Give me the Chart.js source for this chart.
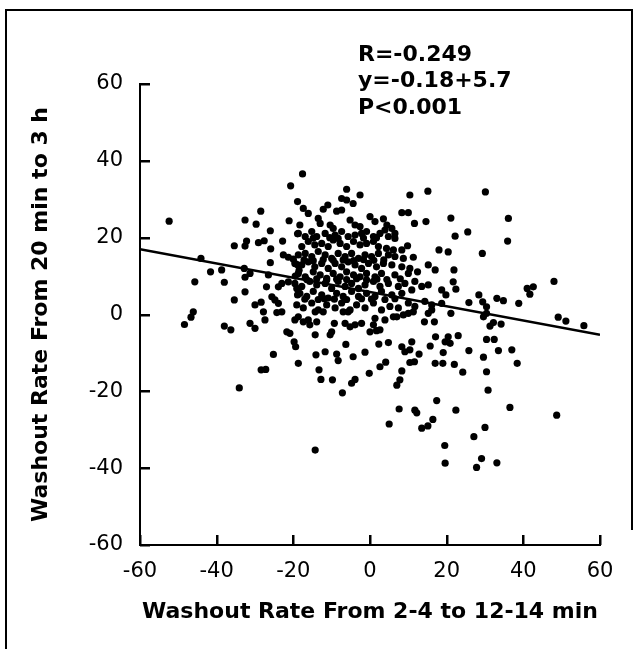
<!DOCTYPE html>
<html>
<head>
<meta charset="utf-8">
<script src="https://cdn.jsdelivr.net/npm/chart.js@4.4.0/dist/chart.umd.min.js"></script>
<style>
  html, body { margin: 0; padding: 0; background: #fff; }
  #wrap { width: 637px; height: 649px; }
</style>
</head>
<body>
<div id="wrap"><canvas id="chart" width="637" height="649"></canvas></div>
<script>
// washout rate from 2-4 to 12-14 min (x) and from 20 min to 3 h (y), one entry per patient
const rateEarly = [
  -52.4, -20.7, -18.9, -28.5, -32.6, -29.7, -21.1, -26.0, -18.9, -35.4,
  -32.6, -32.2, -29.1, -27.6, -25.9, -22.8, -22.6, -21.3, -20.0, -44.1,
  -41.6, -38.7, -45.7, -38.0, -32.8, -32.6, -31.3, -26.0, -26.5, -27.0,
  -32.6, -35.4, -30.0, -28.4, -23.9, -23.0, -21.3, -25.6, -24.8, -23.9,
  -46.1, -27.8, -23.0, -19.1, -18.9, -19.0, -18.5, -19.5,
  -46.7, -48.4, -38.0, -36.3, -31.3, -30.0, -27.4, -24.3, -21.7, -20.9,
  -19.6, -19.8, -19.4, -25.2, -18.7, -28.4, -27.2, -34.1,
  -17.6, -6.1, -2.6, -7.4, -6.1, -4.4, -17.4, -16.1, -12.2, -11.0,
  -8.7, -7.4, 10.4, 15.1, 8.3, 10.0, 11.6, 14.6, 18.0, 9.8,
  11.3, 15.2, 17.0, 12.4, 15.2, -18.3, -13.5, -13.0, -10.4, -9.6,
  -5.2, -3.9, -2.6, 0.0, 1.3, 3.5, 4.4, 5.7, 6.5,
  30.1, 21.1, 36.1, 22.2, 25.5, 35.9, 20.4, 29.3, 21.9, 21.7,
  22.4, 18.7, 19.8, 18.7, 25.8, 28.4, 29.4, 30.4, 33.1, 34.8,
  38.8, 41.0, 42.6, 41.7, 48.0, 21.1,
  29.6, 30.4, 31.3, 32.2, 34.2, 49.1, 51.1, 55.8, 20.4, 19.6,
  20.9, 23.0, 30.4, 32.4, 19.1, 25.8, 29.6, 33.5, 37.0, 19.0,
  22.0, 24.2, 30.4, 38.4, 30.8, 22.4, 36.5, 48.7, 30.0, 27.1,
  19.5, 19.6, 29.1, 27.8, 33.1,
  -14.3, -10.4, -10.0, -9.3, -6.3, -14.1, -11.7, -8.7, -8.3, -4.4,
  -1.3, -13.3, -12.8, -9.8, -7.2, -4.8, -3.9, -0.2, 2.6, 4.1,
  2.3, 4.8, 8.3, 7.0, 7.8, 8.3, 9.1, 10.4, 10.9, 12.8,
  10.4, 11.6, 15.7, 17.1, 17.0, 14.2, 16.8, 17.4, 7.6, 11.7,
  12.2, 16.4, 13.5, 15.1, 5.0, -14.3,
  -18.7, -17.4, -16.1, -15.7, -13.9, -14.3, -12.2, -7.0, -5.7, -6.5,
  -5.2, -3.9, -2.2, 0.0, 1.7, 2.6, 0.9, 1.3, 3.9, 6.1,
  7.0, 8.7, 10.0, 11.3, 15.2, 16.1,
  -18.7, -16.9, -15.2, -13.9, -11.7, -9.1, -7.4, -5.7, -3.9, -2.2, -0.9, 0.9, 2.6, 3.9, 4.8, 6.5,
  -17.8, -16.1, -14.4, -12.6, -10.9, -9.6, -7.8, -6.1, -4.3, -2.6, -0.9, 0.9, 2.2, 4.3, 6.1, 8.3,
  -18.7, -16.9, -15.2, -13.5, -11.7, -10.0, -8.3, -6.5, -4.8, -3.0, -1.3, 0.4, 2.2, 4.8, 6.5, 8.7,
  -19.6, -17.8, -16.1, -14.4, -12.6, -10.9, -9.1, -7.4, -5.7, -3.9, -2.2, -0.4, 1.7, 3.5, 5.7, 8.3, 10.4,
  -18.7, -16.9, -14.8, -13.0, -11.3, -9.6, -7.8, -6.1, -4.3, -2.6, -0.9, 1.3, 3.0, 6.5, 10.0,
  -19.6, -17.8, -15.7, -13.9, -11.7, -10.0, -8.3, -6.5, -4.8, -3.0, -1.3, 0.9, 2.6, 4.8, 7.4, 9.1, 11.7,
  -18.3, -16.5, -14.8, -12.6, -10.9, -8.7, -7.0, -4.8, -3.0, -0.9, 1.3, 3.0, 5.7, 8.3, 10.9, 13.5,
  -19.1, -17.4, -15.2, -13.5, -11.3, -9.1, -7.4, -5.2, -3.5, -1.3, 0.9, 3.0, 5.2, 7.4, 10.0, 11.7, 14.3, 16.1,
  -17.2, -14.8, -12.2, -9.6, -7.0, -4.3, -1.7, 1.0, 3.6,
  -16.5, -13.9, -11.3, -8.7, -6.1, -3.5, -0.9, 1.8, 4.4, 7.9,
  -17.0, -13.5, -11.9, -9.3, -6.1, -2.2, 0.4, 3.9, 6.5,
  -14.8, -10.5, -8.3, -1.7, 1.7
];
const rateLate = [
  24.3, 33.5, 29.4, 26.9, 24.6, 23.5, 24.4, 21.8, 21.0, 17.9,
  17.8, 19.1, 18.7, 19.2, 17.1, 19.1, 15.5, 14.9, 14.4, 14.6,
  11.1, 11.6, 8.5, 8.4, 12.0, 9.7, 10.7, 13.5, 10.3, 7.2,
  5.9, 3.8, 2.5, 3.2, 7.2, 8.1, 8.5, 4.6, 3.8, 2.9,
  0.7, 0.7, 0.7, 6.8, 5.1, 13.0, 11.5, 10.0,
  -0.7, -2.6, -3.0, -4.0, -2.3, -3.6, -1.4, 0.5, -4.5, -4.9,
  -1.4, -7.1, -8.4, -10.4, -12.7, -14.4, -14.3, -19.1,
  36.6, 32.6, 31.1, 30.2, 29.8, 28.9, 27.6, 26.3, 27.4, 28.5,
  26.9, 27.2, 31.1, 32.1, 26.5, 26.5, 23.7, 24.2, 16.8, 17.9,
  14.9, 12.9, 11.6, 11.1, 7.7, 23.3, 25.0, 23.7, 23.3, 22.4,
  24.6, 23.3, 22.9, 25.5, 24.2, 24.9, 23.3, 22.4, 21.1,
  31.9, 25.1, 25.0, 20.4, 21.5, 19.1, 16.3, 15.9, 11.6, 8.5,
  6.6, 6.4, 5.1, 2.9, 3.1, 5.1, 3.3, 2.0, 4.2, 3.6,
  2.9, 6.8, 7.2, 5.3, 8.6, 0.3,
  -0.6, 0.3, -3.0, -2.1, -2.5, -0.7, -1.7, -2.9, -5.8, -7.1,
  -7.5, -5.5, -6.5, -6.5, -9.9, -9.4, -11.1, -9.4, -9.2, -12.7,
  -13.0, -15.0, -14.9, -12.7, -19.7, -24.9, -24.2, -26.2, -29.4, -31.8,
  -34.1, -38.7, -37.5, -39.8, -38.6,
  -5.3, -5.3, -4.5, -2.3, -7.8, -10.5, -9.7, -10.3, -12.0, -11.0,
  -9.8, -14.4, -16.9, -17.0, -20.4, -17.9, -16.9, -15.3, -13.6, -12.4,
  -7.7, -7.3, -14.7, -18.4, -17.0, -8.4, -9.7, -9.2, -7.1, -10.3,
  -12.5, -12.3, -8.2, -5.8, -12.7, -1.9, -1.9, -22.4, -24.6, -24.9,
  -25.6, -27.3, -29.6, -29.0, -28.5, -35.3,
  -0.6, -1.9, -1.4, -2.7, -1.9, 0.7, 0.7, 0.7, 0.7, -2.3,
  -3.2, -2.7, -2.3, -4.5, -4.2, -4.0, -2.7, -1.0, -1.4, -0.6,
  -0.6, -0.1, 0.3, 0.7, 0.3, 1.2,
  21.1, 20.3, 21.6, 20.3, 21.1, 20.7, 21.6, 20.3, 20.7, 21.1, 21.6, 20.3, 21.1, 22.0, 20.3, 19.8,
  17.7, 19.0, 18.1, 18.5, 17.7, 19.4, 18.5, 17.7, 19.0, 18.1, 18.5, 19.0, 17.7, 17.2, 16.8, 16.8,
  15.5, 15.9, 15.1, 16.4, 15.5, 14.6, 15.9, 15.1, 15.9, 14.6, 15.5, 15.1, 15.9, 15.5, 15.1, 14.6,
  13.3, 12.9, 13.7, 12.4, 13.3, 12.0, 13.3, 12.4, 13.7, 12.9, 12.0, 13.3, 12.4, 13.3, 12.9, 12.4, 12.0,
  10.7, 9.8, 11.1, 10.3, 9.4, 10.7, 9.8, 11.1, 10.3, 9.8, 10.7, 9.8, 10.7, 10.3, 10.7,
  8.1, 7.3, 8.6, 7.7, 8.1, 6.8, 8.6, 7.3, 8.1, 6.8, 7.7, 8.6, 7.3, 8.1, 7.3, 8.1, 8.6,
  5.5, 4.7, 6.0, 5.1, 4.3, 5.5, 4.7, 6.0, 4.7, 5.5, 4.7, 6.0, 5.1, 5.5, 6.4, 7.3,
  2.5, 1.7, 3.0, 1.2, 2.5, 1.7, 3.0, 1.2, 2.5, 1.7, 3.0, 1.2, 2.1, 1.7, 3.0, 2.1, 3.4, 2.5,
  14.2, 14.0, 14.3, 14.1, 14.2, 14.0, 14.3, 14.1, 14.2,
  9.1, 9.3, 9.0, 9.2, 9.1, 9.3, 9.0, 9.2, 9.1, 9.3,
  4.0, 3.9, 4.1, 4.0, 3.9, 4.1, 4.0, 3.9, 4.1,
  19.9, 20.0, 19.8, 19.9, 20.0
];
// regression line end points
const fitX = [-60, 60];
const fitY = [17.0, -5.3];
const axisTicks = [-60, -40, -20, 0, 20, 40, 60];
const statLines = ['R=-0.249', 'y=-0.18+5.7', 'P<0.001'];

const points = rateEarly.map((x, i) => ({ x, y: rateLate[i] }));
const fitLine = fitX.map((x, i) => ({ x, y: fitY[i] }));

const FONT = '"DejaVu Sans", "Liberation Sans", Arial, sans-serif';
const TICK_LEN = 10;

// white page + thin frame round the figure
const framePlugin = {
  id: 'frame',
  beforeDraw(chart) {
    const c = chart.ctx;
    c.save();
    c.fillStyle = '#fff';
    c.fillRect(0, 0, chart.width, chart.height);
    c.strokeStyle = '#000';
    c.lineWidth = 2;
    c.beginPath();
    c.moveTo(6, chart.height);
    c.lineTo(6, 10);
    c.lineTo(632, 10);
    c.lineTo(632, 530);
    c.stroke();
    c.restore();
  }
};

// tick marks pointing into the plot, placed by the scales
const innerTicks = {
  id: 'innerTicks',
  afterDraw(chart) {
    const c = chart.ctx;
    const area = chart.chartArea;
    const xs = chart.scales.x;
    const ys = chart.scales.y;
    c.save();
    c.fillStyle = '#000';
    axisTicks.forEach(v => {
      const px = Math.round(xs.getPixelForValue(v));
      c.fillRect(px - 1, area.bottom - TICK_LEN, 2.5, TICK_LEN);
      const py = Math.round(ys.getPixelForValue(v));
      c.fillRect(area.left, py - 1, TICK_LEN, 2.5);
    });
    c.restore();
  }
};

const statsText = {
  id: 'statsText',
  afterDraw(chart) {
    const c = chart.ctx;
    c.save();
    c.fillStyle = '#000';
    c.font = 'bold 22px ' + FONT;
    c.textBaseline = 'alphabetic';
    c.textAlign = 'left';
    statLines.forEach((s, i) => c.fillText(s, 358, 61 + i * 26.3));
    c.restore();
  }
};

const tickFont = { family: FONT, size: 21 };
const titleFont = { family: FONT, size: 22, weight: 'bold', lineHeight: 1.2 };
const noGrid = { display: false, drawTicks: false };

new Chart(document.getElementById('chart'), {
  type: 'scatter',
  data: {
    datasets: [
      {
        type: 'line',
        data: fitLine,
        borderColor: '#000',
        borderWidth: 2.5,
        pointRadius: 0,
        showLine: true,
        fill: false,
      },
      {
        data: points,
        backgroundColor: '#000',
        borderColor: '#000',
        borderWidth: 0,
        pointRadius: 3.6,
      }
    ]
  },
  options: {
    responsive: false,
    animation: false,
    devicePixelRatio: 1,
    layout: { padding: { left: 0, right: 37, top: 84, bottom: 0 } },
    plugins: { legend: { display: false }, tooltip: { enabled: false } },
    scales: {
      x: {
        type: 'linear',
        min: -60,
        max: 60,
        afterBuildTicks: (s) => { s.ticks = axisTicks.map(v => ({ value: v })); },
        afterFit: (s) => { s.height = 104; },
        grid: noGrid,
        border: { display: true, color: '#000', width: 2 },
        ticks: { color: '#000', font: tickFont, padding: 14, maxRotation: 0, autoSkip: false },
        title: {
          display: true,
          text: 'Washout Rate From 2-4 to 12-14 min',
          color: '#000',
          font: titleFont,
          padding: { top: 0, bottom: 24 },
        },
      },
      y: {
        type: 'linear',
        min: -60,
        max: 60,
        afterBuildTicks: (s) => { s.ticks = axisTicks.map(v => ({ value: v })); },
        afterFit: (s) => { s.width = 140; },
        grid: noGrid,
        border: { display: true, color: '#000', width: 2 },
        ticks: { color: '#000', font: tickFont, padding: 17, autoSkip: false },
        title: {
          display: true,
          text: 'Washout Rate From 20 min to 3 h',
          color: '#000',
          font: titleFont,
          padding: { top: 28, bottom: 0 },
        },
      }
    }
  },
  plugins: [framePlugin, innerTicks, statsText]
});
</script>
</body>
</html>
